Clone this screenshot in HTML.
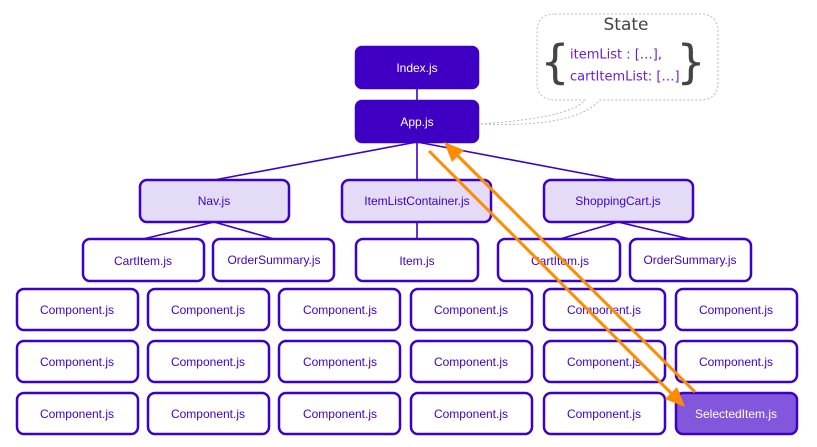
<!DOCTYPE html>
<html><head><meta charset="utf-8"><style>
html,body{margin:0;padding:0;background:#fff;}
svg{display:block;}
text{font-family:"Liberation Sans",sans-serif;font-size:12px;text-anchor:middle;dominant-baseline:central;}
</style></head><body>
<svg width="817" height="447" viewBox="0 0 817 447" xmlns="http://www.w3.org/2000/svg">
<!-- state bubble -->
<path d="M555,14 H700 Q718,14 718,32 V82 Q718,100 700,100 H600 Q575,128 480,124 Q570,118 585,100 H555 Q537,100 537,82 V32 Q537,14 555,14 Z" fill="none" stroke="#bbb" stroke-width="1" stroke-dasharray="2,2"/>
<text x="626" y="25" style="font-size:17px;fill:#444;font-family:'DejaVu Sans',sans-serif">State</text>
<text x="555" y="62" style="font-size:46px;fill:#444;font-family:'DejaVu Sans',sans-serif">{</text>
<text x="691" y="62" style="font-size:46px;fill:#444;font-family:'DejaVu Sans',sans-serif">}</text>
<text x="570" y="55" style="font-size:13px;fill:#6a1fd0;text-anchor:start;font-family:'DejaVu Sans',sans-serif">itemList : […],</text>
<text x="570" y="77" style="font-size:13px;fill:#6a1fd0;text-anchor:start;font-family:'DejaVu Sans',sans-serif">cartItemList: […]</text>
<!-- connectors -->
<g stroke="#3d00c8" stroke-width="1.6" fill="none">
<line x1="417" y1="88" x2="417" y2="101"/>
<line x1="417" y1="142" x2="214" y2="180"/>
<line x1="417" y1="142" x2="417" y2="180"/>
<line x1="417" y1="142" x2="618" y2="180"/>
<line x1="214" y1="222" x2="143" y2="239"/>
<line x1="214" y1="222" x2="274" y2="239"/>
<line x1="417" y1="222" x2="417" y2="239"/>
<line x1="618" y1="222" x2="560" y2="239"/>
<line x1="618" y1="222" x2="690" y2="239"/>
</g>
<g stroke="#3d00c8" stroke-width="2.5">
<rect x="356" y="47" width="122" height="41" rx="6" fill="#3f00c4"/>
<rect x="356" y="101" width="122" height="41" rx="6" fill="#3f00c4"/>
<rect x="140" y="180" width="149" height="42" rx="7" fill="#e4dcf6"/>
<rect x="342" y="180" width="149" height="42" rx="7" fill="#e4dcf6"/>
<rect x="544" y="180" width="149" height="42" rx="7" fill="#e4dcf6"/>
<g fill="#fff">
<rect x="83" y="239" width="121" height="42" rx="7"/>
<rect x="213" y="239" width="121" height="42" rx="7"/>
<rect x="356" y="239" width="122" height="42" rx="7"/>
<rect x="498" y="239" width="122" height="42" rx="7"/>
<rect x="630" y="239" width="121" height="42" rx="7"/>
<rect x="17" y="289" width="121" height="41" rx="7"/><rect x="148" y="289" width="121" height="41" rx="7"/><rect x="279" y="289" width="121" height="41" rx="7"/><rect x="411" y="289" width="121" height="41" rx="7"/><rect x="544" y="289" width="121" height="41" rx="7"/><rect x="676" y="289" width="121" height="41" rx="7"/>
<rect x="17" y="341" width="121" height="41" rx="7"/><rect x="148" y="341" width="121" height="41" rx="7"/><rect x="279" y="341" width="121" height="41" rx="7"/><rect x="411" y="341" width="121" height="41" rx="7"/><rect x="544" y="341" width="121" height="41" rx="7"/><rect x="676" y="341" width="121" height="41" rx="7"/>
<rect x="17" y="393" width="121" height="41" rx="7"/><rect x="148" y="393" width="121" height="41" rx="7"/><rect x="279" y="393" width="121" height="41" rx="7"/><rect x="411" y="393" width="121" height="41" rx="7"/><rect x="544" y="393" width="121" height="41" rx="7"/>
</g>
<rect x="676" y="393" width="121" height="41" rx="7" fill="#8257dc"/>
</g>
<text x="417" y="68" fill="#fff">Index.js</text>
<text x="417" y="122" fill="#fff">App.js</text>
<g fill="#3d00c8">
<text x="214" y="201">Nav.js</text>
<text x="417" y="201">ItemListContainer.js</text>
<text x="618" y="201">ShoppingCart.js</text>
<text x="143" y="261">CartItem.js</text>
<text x="274" y="260">OrderSummary.js</text>
<text x="417" y="261">Item.js</text>
<text x="560" y="261">CartItem.js</text>
<text x="690" y="260">OrderSummary.js</text>
<text x="77" y="310">Component.js</text><text x="208" y="310">Component.js</text><text x="340" y="310">Component.js</text><text x="471" y="310">Component.js</text><text x="604" y="310">Component.js</text><text x="736" y="310">Component.js</text>
<text x="77" y="362">Component.js</text><text x="208" y="362">Component.js</text><text x="340" y="362">Component.js</text><text x="471" y="362">Component.js</text><text x="604" y="362">Component.js</text><text x="736" y="362">Component.js</text>
<text x="77" y="414">Component.js</text><text x="208" y="414">Component.js</text><text x="340" y="414">Component.js</text><text x="471" y="414">Component.js</text><text x="604" y="414">Component.js</text>
</g>
<text x="736" y="414" fill="#fff">SelectedItem.js</text>
<!-- orange arrows -->
<g stroke="#ff8c00" stroke-width="3" fill="none">
<line x1="429" y1="151" x2="677" y2="399"/>
<line x1="695" y1="392" x2="452" y2="150"/>
</g>
<polygon points="685,407 665,399 677,387" fill="#ff8c00"/>
<polygon points="444,142 464,150 452,162" fill="#ff8c00"/>
</svg>
</body></html>
